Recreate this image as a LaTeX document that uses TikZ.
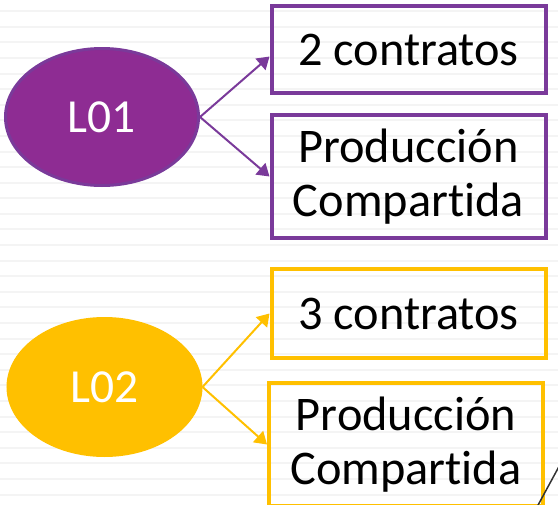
\documentclass[tikz,border=0pt]{standalone}
\usepackage{fontspec}
\setmainfont{Carlito}[Ligatures=NoCommon]
\usetikzlibrary{shapes.geometric,arrows.meta}
\definecolor{lofill}{HTML}{8E2C93}
\definecolor{loline}{HTML}{7A3A9A}
\definecolor{logold}{HTML}{FFC000}
\definecolor{stripe}{HTML}{F4F4F4}
\begin{document}
\begin{tikzpicture}[x=1cm,y=-1cm,
        lo/.style={ellipse,minimum width=3.86cm,minimum height=2.74cm,inner sep=0pt,line width=0.06cm,text=white,font=\fontsize{27}{30}\selectfont},
        box/.style={rectangle,minimum width=5.48cm,inner sep=0pt,line width=0.08cm,align=center,font=\fontsize{27.5}{30.5}\selectfont},
        arr/.style={-{Triangle[length=0.24cm,width=0.3cm]},line width=0.04cm}]
        \useasboundingbox (0,0) rectangle (11.16,10.1);
        \clip (0,0) rectangle (11.16,10.1);
        \foreach \k in {0,...,31}
            \draw[stripe,line width=0.04cm] (0,0.222+0.312*\k) -- (11.16,0.222+0.312*\k);
        \node[lo,fill=lofill,draw=loline] (l1) at (2.04, 2.34) {L01};
        \node[box,draw=loline,minimum height=1.74cm] (c1) at (8.17, 0.99) {2 contratos};
        \node[box,draw=loline,minimum height=2.46cm] (c2) at (8.17, 3.53) {Producción\\Compartida};
        \node[lo,fill=logold,draw=logold] (l2) at (2.09, 7.74) {L02};
        \node[box,draw=logold,minimum height=1.78cm] (c3) at (8.17, 6.27) {3 contratos};
        \node[box,draw=logold,minimum height=2.46cm] (c4) at (8.12, 8.89) {Producción\\Compartida};
        \draw[arr,loline] (l1.east) -- ([yshift=-4pt]c1.west);
        \draw[arr,loline] (l1.east) -- (c2.west);
        \draw[arr,logold] (l2.east) -- (c3.west);
        \draw[arr,logold] (l2.east) -- (c4.west);
        \draw[line width=0.03cm,black!80] (10.74, 10.14) -- (11.18, 9.33);
    \end{tikzpicture}
\end{document}
